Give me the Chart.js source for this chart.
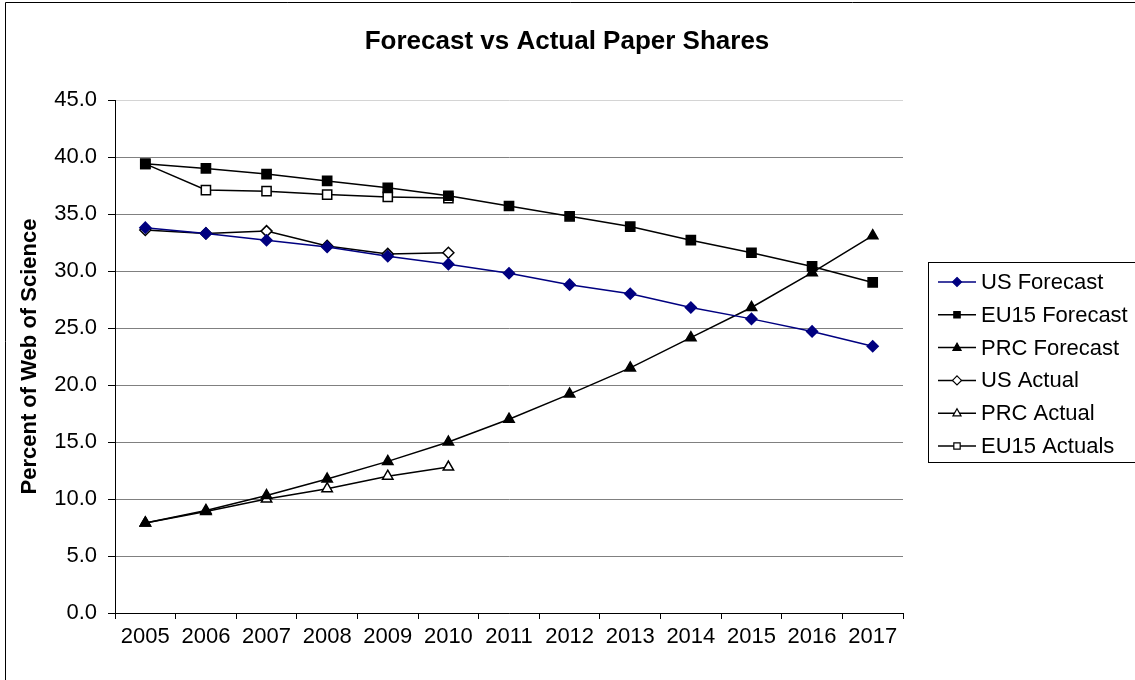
<!DOCTYPE html>
<html>
<head>
<meta charset="utf-8">
<script src="https://cdn.jsdelivr.net/npm/chart.js@4/dist/chart.umd.min.js"></script>
<style>
  html, body { margin: 0; padding: 0; background: #ffffff; }
  #wrap { width: 1135px; height: 680px; position: relative; }
  canvas { display: block; }
</style>
</head>
<body>
<div id="wrap"><canvas id="c" width="1135" height="680"></canvas></div>
<script>
const years = ['2005','2006','2007','2008','2009','2010','2011','2012','2013','2014','2015','2016','2017'];
const yTicks = [0, 5, 10, 15, 20, 25, 30, 35, 40, 45];
const chartTitle = 'Forecast vs Actual Paper Shares';
const yTitle = 'Percent of Web of Science';

const usForecast   = [33.8, 33.3, 32.7, 32.1, 31.3, 30.6, 29.8, 28.8, 28.0, 26.8, 25.8, 24.7, 23.4];
const eu15Forecast = [39.4, 39.0, 38.5, 37.9, 37.3, 36.6, 35.7, 34.8, 33.9, 32.7, 31.6, 30.4, 29.0];
const prcForecast  = [7.9, 9.0, 10.3, 11.75, 13.3, 15.0, 17.0, 19.2, 21.5, 24.15, 26.8, 29.85, 33.1];
const usActual     = [33.6, 33.3, 33.5, 32.2, 31.5, 31.6, null, null, null, null, null, null, null];
const prcActual    = [7.9, 8.9, 10.0, 10.9, 12.0, 12.8, null, null, null, null, null, null, null];
const eu15Actuals  = [39.4, 37.1, 37.0, 36.7, 36.5, 36.4, null, null, null, null, null, null, null];

const FONT = "'Liberation Sans', Arial, sans-serif";

function ds(label, data, color, style, fill, radius) {
  return {
    label: label,
    data: data,
    borderColor: color,
    backgroundColor: fill,
    borderWidth: 1.5,
    pointStyle: style,
    pointRadius: radius,
    pointHoverRadius: radius,
    pointBackgroundColor: fill,
    pointBorderColor: color,
    pointBorderWidth: 1.5,
    tension: 0,
    fill: false,
    spanGaps: false
  };
}

const datasets = [
  ds('US Forecast', usForecast, '#000080', 'rectRot', '#000080', 5.5),
  ds('EU15 Forecast', eu15Forecast, '#000000', 'rect', '#000000', 6.5),
  ds('PRC Forecast', prcForecast, '#000000', 'triangle', '#000000', 6),
  ds('US Actual', usActual, '#000000', 'rectRot', '#ffffff', 5.5),
  ds('PRC Actual', prcActual, '#000000', 'triangle', '#ffffff', 6),
  ds('EU15 Actuals', eu15Actuals, '#000000', 'rect', '#ffffff', 6.5)
];

const framePlugin = {
  id: 'frame',
  beforeDraw(chart) {
    const ctx = chart.ctx;
    ctx.save();
    ctx.fillStyle = '#ffffff';
    ctx.fillRect(0, 0, chart.width, chart.height);
    ctx.strokeStyle = '#000000';
    ctx.lineWidth = 1;
    ctx.beginPath();
    ctx.moveTo(5.5, 680);
    ctx.lineTo(5.5, 2.5);
    ctx.lineTo(1135, 2.5);
    ctx.stroke();
    ctx.fillStyle = '#000000';
    ctx.font = 'bold 26px ' + FONT;
    ctx.textAlign = 'center';
    ctx.textBaseline = 'middle';
    ctx.fillText(chartTitle, 567, 42);
    ctx.restore();
  }
};

function drawMarker(ctx, style, x, y, r, fill, stroke) {
  ctx.save();
  ctx.fillStyle = fill;
  ctx.strokeStyle = stroke;
  ctx.lineWidth = 1.2;
  ctx.beginPath();
  if (style === 'rect') {
    const s = r * Math.SQRT1_2;
    ctx.rect(x - s, y - s, 2 * s, 2 * s);
  } else if (style === 'rectRot') {
    ctx.moveTo(x, y - r);
    ctx.lineTo(x + r, y);
    ctx.lineTo(x, y + r);
    ctx.lineTo(x - r, y);
    ctx.closePath();
  } else if (style === 'triangle') {
    ctx.moveTo(x, y - r);
    ctx.lineTo(x + r * 0.9, y + r * 0.6);
    ctx.lineTo(x - r * 0.9, y + r * 0.6);
    ctx.closePath();
  }
  ctx.fill();
  ctx.stroke();
  ctx.restore();
}

const legendPlugin = {
  id: 'customLegend',
  afterDraw(chart) {
    const ctx = chart.ctx;
    ctx.save();
    ctx.strokeStyle = '#000000';
    ctx.lineWidth = 1;
    ctx.strokeRect(928.5, 262.5, 220, 200);
    ctx.font = '22px ' + FONT;
    ctx.textBaseline = 'middle';
    ctx.textAlign = 'left';
    chart.data.datasets.forEach((d, i) => {
      const y = 282 + i * 32.8;
      ctx.strokeStyle = d.borderColor;
      ctx.lineWidth = 1.5;
      ctx.beginPath();
      ctx.moveTo(938, y);
      ctx.lineTo(976, y);
      ctx.stroke();
      drawMarker(ctx, d.pointStyle, 957, y, 4.5, d.pointBackgroundColor, d.pointBorderColor);
      ctx.fillStyle = '#000000';
      ctx.fillText(d.label, 981, y + 1);
    });
    ctx.restore();
  }
};

new Chart(document.getElementById('c'), {
  type: 'line',
  data: { labels: years, datasets: datasets },
  plugins: [framePlugin, legendPlugin],
  options: {
    responsive: false,
    animation: false,
    events: [],
    layout: { padding: { left: 0, right: 232, top: 100, bottom: 0 } },
    plugins: {
      legend: { display: false },
      tooltip: { enabled: false },
      title: { display: false }
    },
    scales: {
      x: {
        type: 'category',
        offset: true,
        afterFit(scale) { scale.height = 67; },
        grid: { display: true, drawOnChartArea: false, offset: true, tickLength: 6, tickColor: '#000000', color: '#000000' },
        border: { display: true, color: '#000000', width: 1 },
        ticks: {
          color: '#000000',
          font: { family: FONT, size: 22 },
          padding: 5,
          maxRotation: 0,
          minRotation: 0,
          autoSkip: false
        }
      },
      y: {
        min: 0,
        max: 45,
        afterFit(scale) { scale.width = 115; },
        afterBuildTicks(scale) { scale.ticks = yTicks.map(v => ({ value: v })); },
        grid: {
          color: (c) => (c.tick && c.tick.value === 45) ? '#d4d4d4' : '#808080',
          tickColor: '#000000',
          tickLength: 7,
          lineWidth: 1
        },
        border: { display: true, color: '#000000', width: 1 },
        ticks: {
          color: '#000000',
          font: { family: FONT, size: 22 },
          padding: 11,
          callback: (v) => Number(v).toFixed(1)
        },
        title: {
          display: true,
          text: yTitle,
          color: '#000000',
          font: { family: FONT, size: 22, weight: 'bold' },
          padding: { top: 17, bottom: 0 }
        }
      }
    }
  }
});
</script>
</body>
</html>
